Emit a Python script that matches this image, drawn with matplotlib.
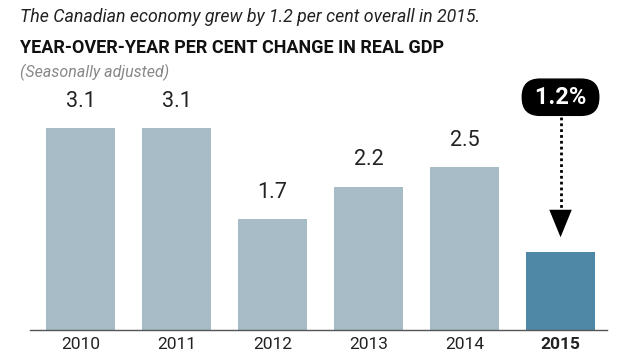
import matplotlib.pyplot as plt

years = ["2010", "2011", "2012", "2013", "2014", "2015"]
gdp_change = [3.1, 3.1, 1.7, 2.2, 2.5, 1.2]
value_labels = ["3.1", "3.1", "1.7", "2.2", "2.5", ""]
callout = " 1.2% "

plt.rcParams['font.family'] = ['Roboto', 'DejaVu Sans']

fig = plt.figure(figsize=(6.35, 3.57), dpi=100)
W, H = 635, 357

# axes placed in pixel terms: baseline at y=330, axis line from x=30 to 607
ax = fig.add_axes([30 / W, (H - 330) / H, (607 - 30) / W, 250 / H])
ax.set_xlim(-0.526, 5.484)
ax.set_ylim(0, 250 / 65.2)

colors = ["#a7bcc7"] * 5 + ["#4f87a6"]
xs = list(range(len(years)))
ax.bar(xs, gdp_change, width=0.72, color=colors)

for x, v, lab in zip(xs, gdp_change, value_labels):
    if lab:
        ax.text(x, v + 0.25, lab, ha="center", va="bottom", fontsize=15.5, color="#222222")

# callout box + dotted arrow for 2015
ax.text(5, 3.57, callout, ha="center", va="center", fontsize=17, fontweight="bold",
        color="white",
        bbox=dict(boxstyle="round,pad=0.28,rounding_size=0.75", fc="black", ec="black"))
ax.plot([5, 5], [1.7, 3.33], ls=(0, (1, 1.1)), lw=2, color="black")
ax.annotate("", xy=(5, 1.38), xytext=(5, 1.78),
            arrowprops=dict(arrowstyle="-|>,head_length=1.1,head_width=0.45",
                            color="black", lw=0, mutation_scale=18))

for s in ["top", "right", "left"]:
    ax.spines[s].set_visible(False)
ax.spines["bottom"].set_color("#555555")
ax.spines["bottom"].set_linewidth(1)
ax.set_yticks([])
ax.set_xticks(xs)
ax.set_xticklabels(years, fontsize=12.5, color="#222222")
ax.tick_params(axis="x", length=0, pad=5)
ax.get_xticklabels()[-1].set_fontweight("bold")

fig.text(20 / W, 1 - 17 / H, "The Canadian economy grew by 1.2 per cent overall in 2015.",
         fontsize=12.8, style="italic", color="#222222", va="center")
fig.text(20 / W, 1 - 48 / H, "YEAR-OVER-YEAR PER CENT CHANGE IN REAL GDP",
         fontsize=13, fontweight="bold", color="#111111", va="center")
fig.text(20 / W, 1 - 72 / H, "(Seasonally adjusted)",
         fontsize=11.5, style="italic", color="#888888", va="center")

fig.savefig("out.png", dpi=100)
